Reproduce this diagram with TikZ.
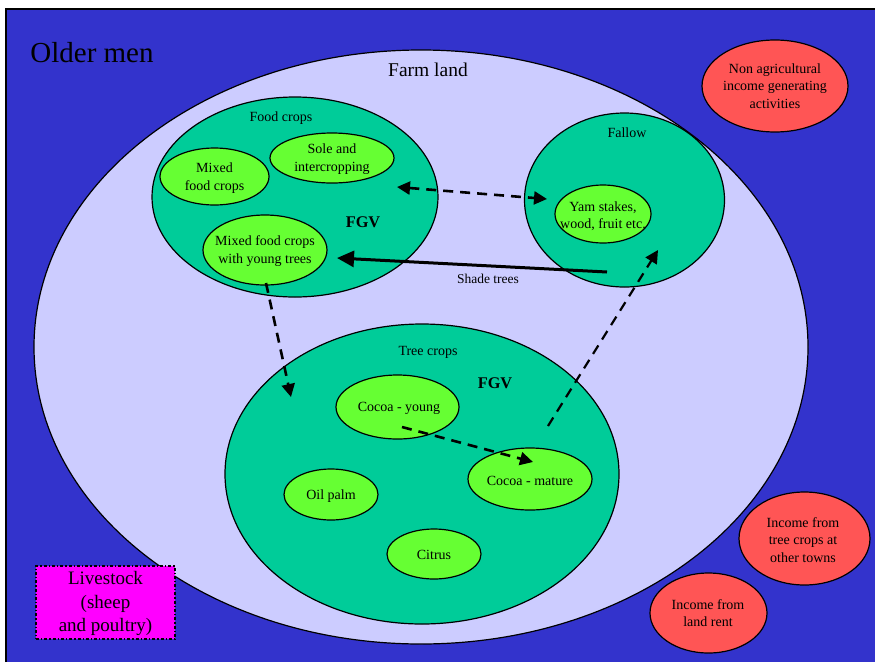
\documentclass[tikz,border=0pt]{standalone}
\usepackage{fontspec}
\setmainfont{Liberation Serif}
\usetikzlibrary{shapes.geometric,arrows.meta}

\definecolor{bgblue}{HTML}{3333CC}
\definecolor{farmfill}{HTML}{CCCCFF}
\definecolor{zonefill}{HTML}{00CC99}
\definecolor{cropfill}{HTML}{66FF33}
\definecolor{incomefill}{HTML}{FF5555}
\definecolor{stockfill}{HTML}{FF00FF}

\tikzset{
  oval/.style={ellipse, draw=black, line width=1.2pt, inner sep=0pt},
  zone/.style={oval, fill=zonefill},
  crop/.style={oval, fill=cropfill},
  income/.style={oval, fill=incomefill},
  txt/.style={font=\fontsize{14}{17.5}\selectfont, align=center, inner sep=0pt},
  bigtxt/.style={font=\fontsize{19.5}{24}\selectfont, align=center, inner sep=0pt},
  fgv/.style={font=\fontsize{16.3}{19}\selectfont\bfseries, inner sep=0pt},
  tipd/.tip={Triangle[length=13pt,width=13pt]},
  tipbig/.tip={Triangle[length=17pt,width=16pt]},
  dasharrow/.style={line width=2.6pt, dash pattern=on 10pt off 7pt},
}

\begin{document}
\begin{tikzpicture}[x=1pt,y=-1pt]
\useasboundingbox (0,0) rectangle (875,662);
\fill[white] (0,0) rectangle (875,662);

% blue frame of the whole household
\fill[bgblue] (6,9) rectangle (875,662);
\draw[line width=1.6pt] (6,662) -- (6,9) -- (875,9);
\node[font=\fontsize{29}{34}\selectfont, inner sep=0pt] (older) at (92,53) {Older men};

% farm land
\node[oval, fill=farmfill, minimum width=774pt, minimum height=594pt] (farm) at (421,347) {};
\node[bigtxt] (farmT) at (428,70) {Farm land};

% food crops
\node[zone, minimum width=286pt, minimum height=200pt] (food) at (295,197) {};
\node[txt] (foodT) at (281,118) {Food crops};
\node[crop, minimum width=109pt, minimum height=57pt] (mixed) at (214.5,176.5) {};
\node[txt] (mixedT) at (214.5,178) {Mixed\\food crops};
\node[crop, minimum width=124pt, minimum height=50pt] (sole) at (332,158) {};
\node[txt] (soleT) at (332,159) {Sole and\\intercropping};
\node[crop, minimum width=124pt, minimum height=70pt] (young) at (265,250) {};
\node[txt] (youngT) at (265,251) {Mixed food crops\\with young trees};
\node[fgv] (fgvA) at (363,222) {FGV};

% fallow
\node[zone, minimum width=200pt, minimum height=174pt] (fallow) at (624.5,200) {};
\node[txt] (fallowT) at (627,133) {Fallow};
\node[crop, minimum width=96pt, minimum height=58pt] (yam) at (603,214) {};
\node[txt] (yamT) at (603,216) {Yam stakes,\\wood, fruit etc.};

% tree crops
\node[zone, minimum width=394pt, minimum height=300pt] (tree) at (422,474) {};
\node[txt] (treeT) at (428,352) {Tree crops};
\node[fgv] (fgvB) at (495,383) {FGV};
\node[crop, minimum width=123pt, minimum height=64pt] (cyoung) at (397.5,407) {};
\node[txt] (cyoungT) at (399,408) {Cocoa - young};
\node[crop, minimum width=124pt, minimum height=62pt] (cmature) at (530,479) {};
\node[txt] (cmatureT) at (530,481) {Cocoa - mature};
\node[crop, minimum width=94pt, minimum height=51pt] (oil) at (331,494.5) {};
\node[txt] (oilT) at (331,496) {Oil palm};
\node[crop, minimum width=94pt, minimum height=50pt] (citrus) at (434,554) {};
\node[txt] (citrusT) at (434,555) {Citrus};

% other incomes
\node[income, minimum width=146pt, minimum height=92pt] (nonag) at (775,86) {};
\node[txt] (nonagT) at (775,86) {Non agricultural\\income generating\\activities};
\node[income, minimum width=131pt, minimum height=93pt] (towns) at (804.5,538.5) {};
\node[txt] (townsT) at (803,540) {Income from\\tree crops at\\other towns};
\node[income, minimum width=117pt, minimum height=80pt] (rent) at (708.5,613) {};
\node[txt] (rentT) at (708,613) {Income from\\land rent};

% livestock
\node[rectangle, draw=black, line width=1.3pt, dash dot, fill=stockfill,
      minimum width=139pt, minimum height=73pt, inner sep=0pt] (stock) at (105.5,602.5) {};
\node[font=\fontsize{19}{23.5}\selectfont, align=center, inner sep=0pt] (stockT) at (105.5,603.5)
  {Livestock\\(sheep\\and poultry)};

% connector ends
\coordinate (soleE) at (397,187);
\coordinate (yamW) at (547,199);
\coordinate (fallowS) at (607,272);
\coordinate (youngE) at (337,258);
\coordinate (youngS) at (266,283);
\coordinate (treeNW) at (291,397);
\coordinate (cyoungS) at (402,427);
\coordinate (cmatureN) at (533,462);
\coordinate (treeE) at (548,426);
\coordinate (yamSE) at (658,250);

% flows between land uses
\draw[dasharrow, tipd-tipd] (soleE) -- (yamW);
\draw[line width=3pt, -tipbig] (fallowS) -- (youngE);
\node[font=\fontsize{13.5}{16}\selectfont, inner sep=0pt] (shadeT) at (488,279) {Shade trees};
\draw[dasharrow, -tipd] (youngS) -- (treeNW);
\draw[dasharrow, -tipd] (cyoungS) -- (cmatureN);
\draw[dasharrow, line width=2.2pt, -tipd] (treeE) -- (yamSE);
\end{tikzpicture}
\end{document}
